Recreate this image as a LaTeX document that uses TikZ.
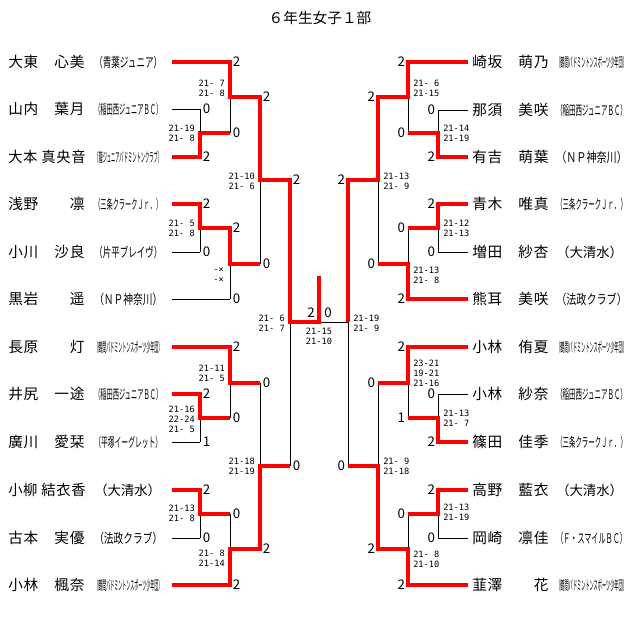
\documentclass[tikz,border=0pt]{standalone}
\usepackage{fontspec}
\usepackage{graphicx}
\setmainfont{Noto Sans CJK JP}
\newfontfamily\namefont[LetterSpace=5]{Noto Sans CJK JP}
\newfontfamily\gamefont{DejaVu Sans Mono}
\newsavebox\fitsave
\newcommand\fitbox[2]{\sbox\fitsave{#2}\ifdim\wd\fitsave>#1\resizebox{#1}{\height}{#2}\else\usebox\fitsave\fi}
\tikzset{
  every node/.style={
    inner sep=0pt
  },
  title/.style={
    font=\fontsize{11}{13}\selectfont
  },
  player/.style={
    anchor=west,
    font=\namefont\fontsize{11}{13}\selectfont
  },
  club/.style={
    anchor=west,
    font=\fontsize{10}{12}\selectfont
  },
  won/.style={
    draw=red,
    line width=3pt
  },
  lost/.style={
    draw=black,
    line width=0.75pt
  },
  points/.style={
    font=\fontsize{10}{12}\selectfont
  },
  points left/.style={
    points,
    anchor=west,
    xshift=2pt
  },
  points right/.style={
    points,
    anchor=east,
    xshift=-2pt
  },
  games/.style={
    font=\gamefont\fontsize{6.5}{7.5}\selectfont,
    align=right
  }
}
\begin{document}
\begin{tikzpicture}[x=0.75pt, y=-0.75pt, line join=miter]
  \useasboundingbox (0,0) rectangle (640,637);
  \node [title] (title) at (320,18) {６年生女子１部};

  \foreach \i/\y/\x/\nm/\cl in {
    1/62/230/大東　心美/青葉ジュニア,
    2/109/200/山内　葉月/稲田西ジュニアＢＣ,
    3/157/200/大本 真央音/龍ジュニアバドミントンクラブ,
    4/204/200/浅野　　凛/三条クラークＪｒ．,
    5/252/200/小川　沙良/片平ブレイヴ,
    6/299/230/黒岩　　遥/ＮＰ神奈川,
    7/347/230/長原　　灯/鶴間バドミントンスポーツ少年団,
    8/394/200/井尻　一途/稲田西ジュニアＢＣ,
    9/442/200/廣川　愛栞/平塚イーグレット,
    10/490/200/小柳 結衣香/大清水,
    11/538/200/古本　実優/法政クラブ,
    12/585/230/小林　楓奈/鶴間バドミントンスポーツ少年団}{
    \coordinate (ls\i) at (172,\y);
    \coordinate (le\i) at (\x,\y);
    \draw [lost] (ls\i) -- (le\i);
    \node [player] (ln\i) at (8,\y) {\fitbox{58pt}{\nm}};
    \node [club] (lc\i) at (94,\y) {\fitbox{51pt}{（\cl）}};
  }
  \foreach \i/\y/\x/\nm/\cl in {
    1/62/408/崎坂　萌乃/鶴間バドミントンスポーツ少年団,
    2/110/438/那須　美咲/稲田西ジュニアＢＣ,
    3/157/438/有吉　萌葉/ＮＰ神奈川,
    4/204/438/青木　唯真/三条クラークＪｒ．,
    5/252/438/増田　紗杏/大清水,
    6/299/408/熊耳　美咲/法政クラブ,
    7/347/408/小林　侑夏/鶴間バドミントンスポーツ少年団,
    8/394/438/小林　紗奈/稲田西ジュニアＢＣ,
    9/442/438/篠田　佳季/三条クラークＪｒ．,
    10/490/438/高野　藍衣/大清水,
    11/538/438/岡崎　凛佳/Ｆ・スマイルＢＣ,
    12/585/408/韮澤　　花/鶴間バドミントンスポーツ少年団}{
    \coordinate (rs\i) at (468,\y);
    \coordinate (re\i) at (\x,\y);
    \draw [lost] (rs\i) -- (re\i);
    \node [player] (rn\i) at (472,\y) {\fitbox{58pt}{\nm}};
    \node [club] (rc\i) at (556,\y) {\fitbox{53pt}{（\cl）}};
  }

  \coordinate (a1) at (230,133);
  \coordinate (a2) at (260,97);
  \coordinate (b1) at (230,228);
  \coordinate (b2) at (260,264);
  \coordinate (q1) at (290,180);
  \coordinate (c1) at (230,418);
  \coordinate (c2) at (260,383);
  \coordinate (d1) at (230,514);
  \coordinate (d2) at (260,549);
  \coordinate (q2) at (290,466);
  \coordinate (sl) at (319,322);
  \coordinate (champ) at (319,276);
  \coordinate (ra1) at (408,133);
  \coordinate (ra2) at (378,97);
  \coordinate (rb1) at (408,228);
  \coordinate (rb2) at (378,264);
  \coordinate (rq1) at (348,180);
  \coordinate (rc1) at (408,418);
  \coordinate (rc2) at (378,383);
  \coordinate (rd1) at (408,514);
  \coordinate (rd2) at (378,549);
  \coordinate (rq2) at (348,466);
  \coordinate (rsf) at (348,322);

  \draw [lost] (le2) -- (le3) (le1) -- (a1) (le4) -- (le5) (b1) -- (le6)
    (a2) -- (b2) (le8) -- (le9) (le7) -- (c1) (le10) -- (le11) (d1) -- (le12)
    (c2) -- (d2) (q1) -- (q2) (sl) -- (rsf);
  \draw [lost] (re2) -- (re3) (re1) -- (ra1) (re4) -- (re5) (rb1) -- (re6)
    (ra2) -- (rb2) (re8) -- (re9) (re7) -- (rc1) (re10) -- (re11) (rd1) -- (re12)
    (rc2) -- (rd2) (rq1) -- (rq2);

  \draw [won] (ls1) -- (le1) |- (a2) |- (q1) |- (sl) -- (champ);
  \draw [won] (ls3) -- (le3) |- (a1);
  \draw [won] (ls4) -- (le4) |- (b1) |- (b2);
  \draw [won] (ls7) -- (le7) |- (c2);
  \draw [won] (ls8) -- (le8) |- (c1);
  \draw [won] (ls10) -- (le10) |- (d1);
  \draw [won] (ls12) -- (le12) |- (d2) |- (q2);
  \draw [won] (rs1) -- (re1) |- (ra2) |- (rq1) -- (rsf);
  \draw [won] (rs3) -- (re3) |- (ra1);
  \draw [won] (rs4) -- (re4) |- (rb1);
  \draw [won] (rs6) -- (re6) |- (rb2);
  \draw [won] (rs7) -- (re7) |- (rc2);
  \draw [won] (rs9) -- (re9) |- (rc1);
  \draw [won] (rs10) -- (re10) |- (rd1);
  \draw [won] (rs12) -- (re12) |- (rd2) |- (rq2);

  \foreach \c/\p in {le1/2, le2/0, le3/2, a1/0, a2/2, le4/2, le5/0, b1/2,
    le6/0, b2/0, q1/2, le7/2, le8/2, le9/1, c1/0, c2/0, le10/2, le11/0,
    d1/0, le12/2, d2/2, q2/0}
    \node [points left] (p-\c) at (\c) {\p};
  \foreach \c/\p in {re1/2, re2/0, re3/2, ra1/0, ra2/2, re4/2, re5/0, rb1/0,
    re6/2, rb2/0, rq1/2, re7/2, re8/0, re9/2, rc1/1, rc2/0, re10/2, re11/0,
    rd1/0, re12/2, rd2/2, rq2/0}
    \node [points right] (p-\c) at (\c) {\p};
  \node [points, anchor=south east] (p-fl) at (315,318) {2};
  \node [points, anchor=south west] (p-fr) at (324,318) {0};

  \foreach \c/\x/\y/\g in {
    a1/195/133/21-19\\21- 8,
    a2/225/88/21- 7\\21- 8,
    b1/195/228/21- 5\\21- 8,
    b2/224/275/-×\\-×,
    q1/255/181/21-10\\21- 6,
    c1/195/419/21-16\\22-24\\21- 5,
    c2/225/373/21-11\\21- 5,
    d1/195/513/21-13\\21- 8,
    d2/225/558/21- 8\\21-14,
    q2/255/466/21-18\\21-19,
    s/285/323/21- 6\\21- 7}
    \node [games, anchor=east] (g-\c) at (\x,\y) {\g};
  \foreach \c/\x/\y/\g in {
    ra1/443/133/21-14\\21-19,
    ra2/413/88/21- 6\\21-15,
    rb1/443/228/21-12\\21-13,
    rb2/413/275/21-13\\21- 8,
    rq1/383/181/21-13\\21- 9,
    rc1/443/418/21-13\\21- 7,
    rc2/413/373/23-21\\19-21\\21-16,
    rd1/443/512/21-13\\21-19,
    rd2/413/559/21- 8\\21-10,
    rq2/383/466/21- 9\\21-18,
    rs/353/323/21-19\\21- 9}
    \node [games, anchor=west] (g-\c) at (\x,\y) {\g};
  \node [games, anchor=north] (g-final) at (319,328) {21-15\\21-10};
\end{tikzpicture}
\end{document}
